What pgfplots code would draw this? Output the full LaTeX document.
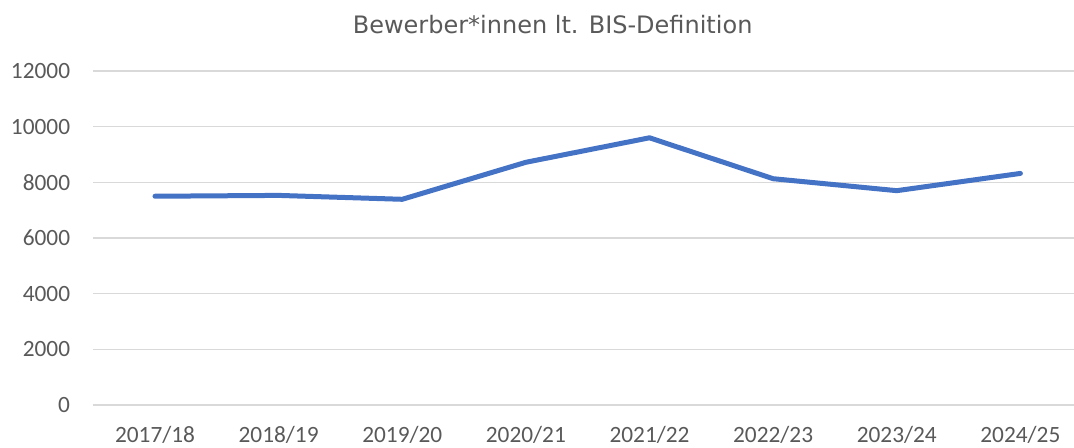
\documentclass[border=0pt]{standalone}
\usepackage{pgfplots}
\pgfplotsset{compat=1.18}
\usepackage{fontspec}
\setmainfont{Carlito}
\newfontfamily\titlefont{DejaVu Sans}
\definecolor{serieblue}{HTML}{4472C4}
\definecolor{gridgray}{HTML}{D9D9D9}
\definecolor{txtgray}{HTML}{595959}
\begin{document}
\begin{tikzpicture}
\useasboundingbox (0,0) rectangle (805.5pt,336pt);
\node[text=txtgray, font=\titlefont\fontsize{18}{21}\selectfont, inner sep=0pt] at (414.5pt,317.25pt) {Bewerber*innen lt. BIS-Definition};
\begin{axis}[
  at={(69.75pt,32.25pt)}, anchor=south west,
  scale only axis, width=735.75pt, height=250.5pt,
  xmin=-0.5015, xmax=7.4337, ymin=0, ymax=12000,
  xtick={0,...,7},
  xticklabels={2017/18,2018/19,2019/20,2020/21,2021/22,2022/23,2023/24,2024/25},
  ytick={0,2000,...,12000},
  scaled y ticks=false,
  /pgf/number format/.cd, 1000 sep={}, assume math mode=true, /pgfplots/.cd,
  axis line style={draw=none},
  major tick length=0pt,
  ymajorgrids, grid style={gridgray, line width=1.2pt},
  tick label style={text=txtgray, font=\fontsize{17.5}{20}\selectfont, inner sep=0pt},
  yticklabel style={anchor=east},
  xticklabel style={anchor=north},
  yticklabel shift=17pt,
  xticklabel shift=16pt,
  clip=false,
]
\addplot[serieblue, line width=3.75pt, line join=round, line cap=round] coordinates {
  (0,7500) (1,7530) (2,7390) (3,8720) (4,9600) (5,8130) (6,7700) (7,8320)
};
\end{axis}
\end{tikzpicture}
\end{document}
